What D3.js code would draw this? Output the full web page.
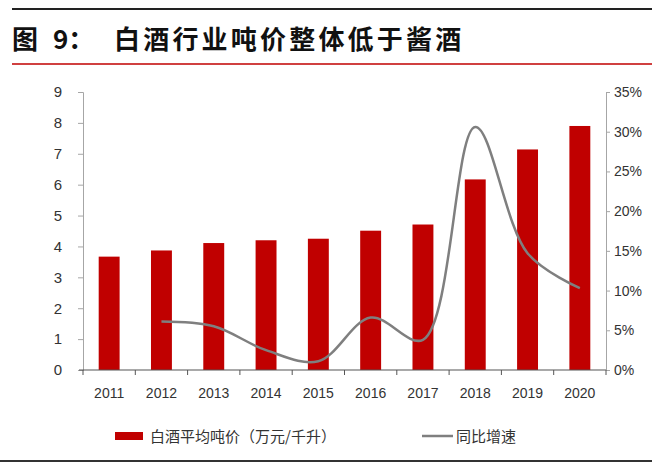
<!DOCTYPE html>
<html lang="zh">
<head>
<meta charset="UTF-8">
<title>白酒行业吨价</title>
<script src="https://cdn.jsdelivr.net/npm/d3@7/dist/d3.min.js"></script>
<style>
  body { margin: 0; background: #fff; }
  svg text { font-family: "Liberation Sans", Arial, sans-serif; }
  .cjk { font-family: "Noto Sans CJK SC", sans-serif; }
</style>
</head>
<body>
<div id="chart"></div>
<script>
var years = ['2011','2012','2013','2014','2015','2016','2017','2018','2019','2020'];
var price = [3.67, 3.87, 4.11, 4.20, 4.25, 4.51, 4.71, 6.17, 7.14, 7.90];
// 同比增速 (%), 2011 has no value
var growthYears = ['2012','2013','2014','2015','2016','2017','2018','2019','2020'];
var growth = [6.1, 5.5, 2.5, 1.1, 6.6, 3.8, 30.6, 14.7, 10.3];
var leftTicks = [0,1,2,3,4,5,6,7,8,9];
var rightTicks = [0,5,10,15,20,25,30,35];

var w = 652, h = 463;
var plotLeft = 83, plotRight = 606, plotTop = 92, plotBottom = 370;

var svg = d3.select('#chart').append('svg')
  .attr('width', w).attr('height', h);

// header lines + title
svg.append('line').attr('x1', 12).attr('x2', w).attr('y1', 9).attr('y2', 9)
  .attr('stroke', '#222').attr('stroke-width', 2);
var title = svg.append('text').attr('class', 'cjk')
  .attr('y', 49)
  .attr('font-size', 26).attr('font-weight', 'bold').attr('fill', '#111');
title.append('tspan').attr('x', 12).text('图');
title.append('tspan').attr('x', 53).text('9：');
title.append('tspan').attr('x', 114).attr('letter-spacing', 3.2).text('白酒行业吨价整体低于酱酒');
svg.append('line').attr('x1', 12).attr('x2', w).attr('y1', 64).attr('y2', 64)
  .attr('stroke', '#c00000').attr('stroke-width', 1.5);
svg.append('line').attr('x1', 0).attr('x2', w).attr('y1', 461).attr('y2', 461)
  .attr('stroke', '#333').attr('stroke-width', 2);

var x = d3.scaleBand().domain(years).range([plotLeft, plotRight]).paddingInner(0.6).paddingOuter(0.3);
var xEdge = d3.scaleBand().domain(years).range([plotLeft, plotRight]);
var y = d3.scaleLinear().domain([0, 9]).range([plotBottom, plotTop]);
var y2 = d3.scaleLinear().domain([0, 35]).range([plotBottom, plotTop]);

// bars
svg.append('g').selectAll('rect').data(price).enter().append('rect')
  .attr('x', (d, i) => x(years[i]))
  .attr('y', d => y(d))
  .attr('width', x.bandwidth())
  .attr('height', d => y(0) - y(d))
  .attr('fill', '#c00000');

// left axis
var yAxis = d3.axisLeft(y).tickValues(leftTicks).tickSize(5).tickPadding(16);
var gy = svg.append('g').attr('transform', 'translate(' + plotLeft + ',0)').call(yAxis);
gy.select('.domain').attr('stroke', '#a6a6a6');
gy.selectAll('.tick line').attr('stroke', '#a6a6a6');
gy.selectAll('text').attr('font-size', 15).attr('fill', '#333');

// right axis
var y2Axis = d3.axisRight(y2).tickValues(rightTicks).tickFormat(d => d + '%').tickSize(4).tickPadding(4);
var gy2 = svg.append('g').attr('transform', 'translate(' + plotRight + ',0)').call(y2Axis);
gy2.select('.domain').attr('stroke', '#a6a6a6');
gy2.selectAll('.tick line').attr('stroke', '#a6a6a6');
gy2.selectAll('text').attr('font-size', 14).attr('fill', '#333');

// bottom axis, ticks at category edges
var gx = svg.append('g').attr('transform', 'translate(0,' + plotBottom + ')');
gx.append('line').attr('x1', plotLeft - 4).attr('x2', plotRight).attr('y1', 0).attr('y2', 0)
  .attr('stroke', '#555').attr('stroke-width', 1.2);
gx.selectAll('.edge').data(years.concat(['end'])).enter().append('line')
  .attr('x1', (d, i) => i < years.length ? xEdge(d) : plotRight)
  .attr('x2', (d, i) => i < years.length ? xEdge(d) : plotRight)
  .attr('y1', 0).attr('y2', 5)
  .attr('stroke', '#555');
gx.selectAll('text').data(years).enter().append('text')
  .attr('x', d => xEdge(d) + xEdge.bandwidth() / 2)
  .attr('y', 28)
  .attr('text-anchor', 'middle')
  .attr('font-size', 14).attr('fill', '#333')
  .text(d => d);

// smoothed growth line
var line = d3.line()
  .x((d, i) => xEdge(growthYears[i]) + xEdge.bandwidth() / 2)
  .y(d => y2(d))
  .curve(d3.curveCatmullRom.alpha(0.5));
svg.append('path').datum(growth)
  .attr('d', line)
  .attr('fill', 'none')
  .attr('stroke', '#7f7f7f')
  .attr('stroke-width', 2.5);

// legend
var lg = svg.append('g');
lg.append('rect').attr('x', 115).attr('y', 432).attr('width', 28).attr('height', 8).attr('fill', '#c00000');
lg.append('text').attr('class', 'cjk').attr('x', 150).attr('y', 442)
  .attr('font-size', 15).attr('fill', '#333').text('白酒平均吨价（万元/千升）');
lg.append('line').attr('x1', 422).attr('x2', 453).attr('y1', 436).attr('y2', 436)
  .attr('stroke', '#7f7f7f').attr('stroke-width', 2.5);
lg.append('text').attr('class', 'cjk').attr('x', 456).attr('y', 442)
  .attr('font-size', 15).attr('fill', '#333').text('同比增速');
</script>
</body>
</html>
